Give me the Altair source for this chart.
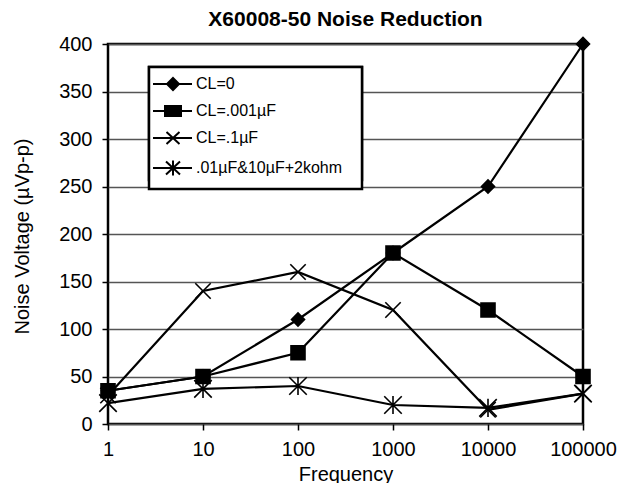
import altair as alt
import pandas as pd

# ---- data ----
freq = [1, 10, 100, 1000, 10000, 100000]
series_names = ["CL=0", "CL=.001\u00b5F", "CL=.1\u00b5F", ".01\u00b5F&10\u00b5F+2kohm"]
cl_0 = [35, 50, 110, 180, 250, 400]
cl_001uf = [35, 50, 75, 180, 120, 50]
cl_01uf = [30, 140, 160, 120, 15, 32]
combo = [22, 37, 40, 20, 17, 32]
y_ticks = [0, 50, 100, 150, 200, 250, 300, 350, 400]

rows = []
for name, vals in zip(series_names, [cl_0, cl_001uf, cl_01uf, combo]):
    for f, v in zip(freq, vals):
        rows.append({"Frequency": f, "Voltage": v, "Series": name})
df = pd.DataFrame(rows)

FONT = "Liberation Sans"

# marker shapes (plot)
marker_paths = [
    "M-0.93,0L0,-0.93L0.93,0L0,0.93Z",
    "M-1,-1H1V1H-1Z",
    "M-1.1,-1.1L1.1,1.1M-1.1,1.1L1.1,-1.1",
    "M-1.25,-1.25L1.25,1.25M-1.25,1.25L1.25,-1.25M0,-1.3V1.3",
]
# legend shapes: line + marker
legend_paths = [
    "M-2.6,0H5.2M1.4,-1.2L2.6,0L1.4,1.2L0.2,0Z",
    "M-2.6,0H5.2M-0.2,-1H3V1H-0.2Z",
    "M-2.6,0H5.2M0.1,-1.2L2.7,1.2M0.1,1.2L2.7,-1.2",
    "M-2.6,0H5.2M0,-1.3L2.8,1.3M0,1.3L2.8,-1.3M1.4,-1.5V1.5",
]

x_enc = alt.X(
    "Frequency:Q",
    scale=alt.Scale(type="log", domain=[1, 100000], nice=False),
    axis=alt.Axis(
        values=freq, format="d", title="Frequency", grid=False, domain=False,
        tickSize=6, tickColor="black", tickWidth=1.5,
        labelFont=FONT, labelFontSize=20, labelColor="black", labelPadding=9,
        labelFlush=False,
        titleFont=FONT, titleFontSize=20, titleFontWeight="normal", titleColor="black",
        titlePadding=5,
    ),
)
y_enc = alt.Y(
    "Voltage:Q",
    scale=alt.Scale(domain=[0, 400], nice=False),
    axis=alt.Axis(
        values=y_ticks, title="Noise Voltage (\u00b5Vp-p)", grid=True,
        gridColor="#555555", gridWidth=1.5, domain=False,
        tickSize=6, tickColor="black", tickWidth=1.5,
        labelFont=FONT, labelFontSize=20, labelColor="black", labelPadding=10,
        titleFont=FONT, titleFontSize=20, titleFontWeight="normal", titleColor="black",
        titlePadding=26, titleY=192,
    ),
)

base = alt.Chart(df)

lines = base.mark_line(color="black", strokeWidth=2.2).encode(
    x=x_enc, y=y_enc, detail="Series:N"
)

points = base.mark_point(
    fill="black", stroke="black", strokeWidth=1.6, opacity=1, size=196
).encode(
    x=x_enc, y=y_enc,
    shape=alt.Shape(
        "Series:N",
        scale=alt.Scale(domain=series_names, range=marker_paths),
        legend=None,
    ),
)

legend_props = dict(
    title="\u00a0", titleOrient="right", titlePadding=11, titleFontSize=16,
    titleFont=FONT,
    orient="none", legendX=41, legendY=23,
    strokeColor="black", fillColor="white", padding=9,
    labelFont=FONT, labelFontSize=16, labelColor="black",
    labelOffset=22, symbolSize=100, symbolStrokeWidth=2,
)

legend_layer = base.transform_filter("datum.Voltage < -1000").mark_point(
    filled=False, color="black", strokeWidth=2, opacity=1, size=100
).encode(
    x=x_enc, y=y_enc,
    shape=alt.Shape(
        "Series:N",
        scale=alt.Scale(domain=series_names, range=legend_paths),
        legend=alt.Legend(**legend_props),
    ),
    fill=alt.Fill(
        "Series:N",
        scale=alt.Scale(domain=series_names, range=["black"] * 4),
        legend=alt.Legend(**legend_props),
    ),
)

chart = (
    alt.layer(lines, points, legend_layer)
    .resolve_scale(shape="independent")
    .properties(
        width=475,
        height=380,
        autosize=alt.AutoSizeParams(type="none"),
        padding={"left": 100, "top": 36, "right": 38, "bottom": 59},
        title=alt.TitleParams(
            "X60008-50 Noise Reduction", font=FONT, fontSize=21,
            fontWeight="bold", color="black", anchor="middle", offset=4,
        ),
        background="white",
    )
)

final = chart.configure_view(stroke="black", strokeWidth=2.5, fill="white")
try:
    final2 = final.configure_legend(rowPadding=8, strokeWidth=2.5)
    final2.to_dict()
    final = final2
except Exception:
    try:
        final2 = final.configure_legend(rowPadding=8)
        final2.to_dict()
        final = final2
    except Exception:
        pass

final.save("out.html", embed_options={"renderer": "svg", "actions": False})
